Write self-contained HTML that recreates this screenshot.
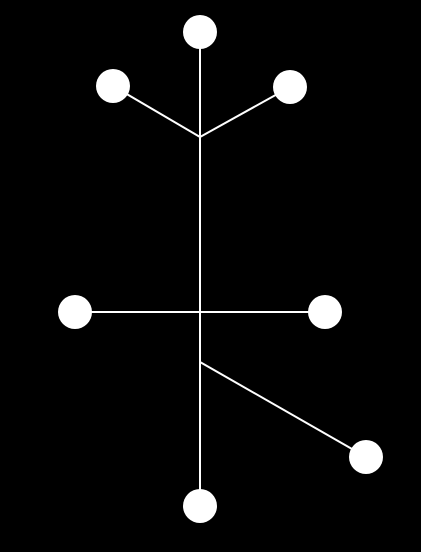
<!DOCTYPE html>
<html><head><meta charset="utf-8"><style>
html,body{margin:0;padding:0;background:#000;width:421px;height:552px;overflow:hidden}
</style></head><body>
<svg id="chart" width="421" height="552" viewBox="0 0 421 552">
<rect width="421" height="552" fill="#000"/>
<g id="edges"></g><g id="nodes"></g>
</svg>
<script>
const nodeNames = ["top","upper-left","upper-right","mid-left","mid-right","lower-right","bottom","junction-upper","junction-mid","junction-lower"];
const nodeX = [200,113,290,75,325,366,200,200,200,200];
const nodeY = [32,86,87,312,312,457,506,137,312,362];
const nodeR = [17,17,17,17,17,17,17,0,0,0];
const edgeFrom = [0,7,8,1,2,3,8,9];
const edgeTo = [7,8,9,7,7,4,9,6];
const edgeTo2 = [5];
const ns="http://www.w3.org/2000/svg";
const eg=document.getElementById('edges'), ng=document.getElementById('nodes');
function addLine(a,b){
  const l=document.createElementNS(ns,'line');
  l.setAttribute('x1',nodeX[a]);l.setAttribute('y1',nodeY[a]);
  l.setAttribute('x2',nodeX[b]);l.setAttribute('y2',nodeY[b]);
  l.setAttribute('stroke','#fff');l.setAttribute('stroke-width','2');
  
  
  eg.appendChild(l);
}
for(let i=0;i<edgeFrom.length;i++) addLine(edgeFrom[i],edgeTo[i]);
addLine(9,5);
for(let i=0;i<nodeX.length;i++){
  if(!nodeR[i]) continue;
  const c=document.createElementNS(ns,'circle');
  c.setAttribute('cx',nodeX[i]);c.setAttribute('cy',nodeY[i]);c.setAttribute('r',nodeR[i]);
  c.setAttribute('fill','#fff');
  
  
  ng.appendChild(c);
}
</script>
</body></html>
